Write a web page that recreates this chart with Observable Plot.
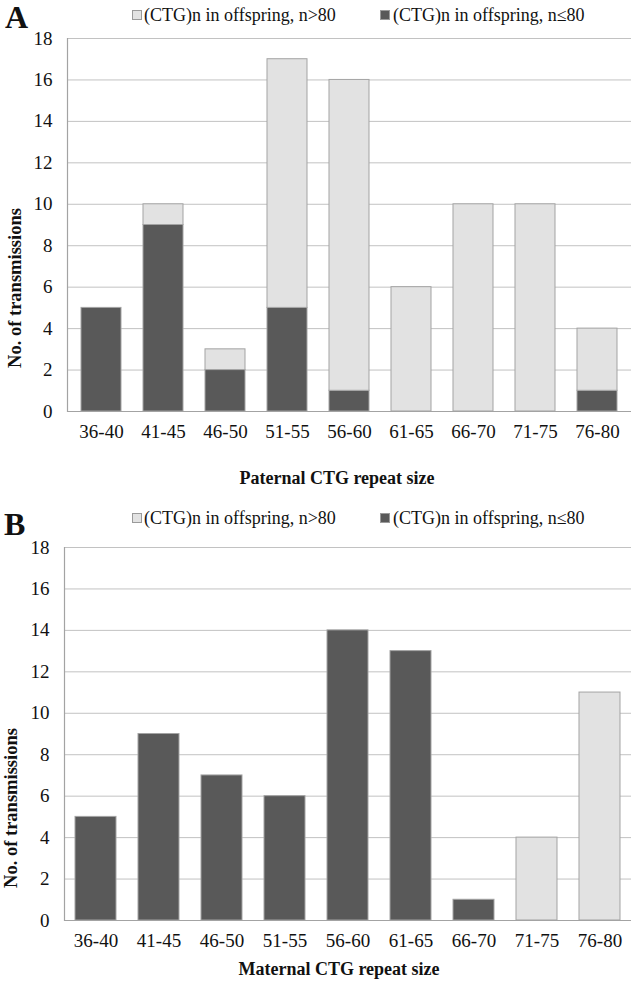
<!DOCTYPE html>
<html>
<head>
<meta charset="utf-8">
<script src="https://cdn.jsdelivr.net/npm/d3@7"></script>
<script src="https://cdn.jsdelivr.net/npm/@observablehq/plot@0.6"></script>
<style>
  body { margin: 0; background: #fff; font-family: "Liberation Serif", serif; }
  #wrap { position: relative; width: 632px; height: 984px; overflow: hidden; }
  .abs { position: absolute; color: #111; white-space: nowrap; line-height: 1; }
  .letter { font-size: 32px; font-weight: bold; }
  .legtxt { font-size: 18px; }
  .sw { width: 8px; height: 8px; border: 1px solid #9a9a9a; }
  .xt { font-size: 18px; font-weight: bold; transform: translateX(-50%); }
  .yt { font-size: 18.5px; font-weight: bold; transform: translate(-50%, -50%) rotate(-90deg); }
  .chart { position: absolute; left: 0; }
</style>
</head>
<body>
<div id="wrap"></div>
<script>
const categories = ["36-40","41-45","46-50","51-55","56-60","61-65","66-70","71-75","76-80"];
const seriesNames = ["(CTG)n in offspring, n>80", "(CTG)n in offspring, n\u226480"];
const paternalLow  = [5, 9, 2, 5, 1, 0, 0, 0, 1];
const paternalHigh = [0, 1, 1, 12, 15, 6, 10, 10, 3];
const maternalLow  = [5, 9, 7, 6, 14, 13, 1, 0, 0];
const maternalHigh = [0, 0, 0, 0, 0, 0, 0, 4, 11];
const yTicks = [0, 2, 4, 6, 8, 10, 12, 14, 16, 18];

const darkFill = "#595959", lightFill = "#e2e2e2", edge = "#a3a3a3", gridColor = "#c2c2c2";

function tidy(low, high) {
  const rows = [];
  categories.forEach((c, i) => {
    if (low[i] > 0) rows.push({cat: c, group: "low", value: low[i]});
    if (high[i] > 0) rows.push({cat: c, group: "high", value: high[i]});
  });
  return rows;
}

function makeChart(data, opts) {
  return Plot.plot({
    width: 632,
    height: opts.height,
    marginTop: opts.mt,
    marginBottom: opts.mb,
    marginLeft: opts.ml,
    marginRight: 1,
    style: {fontFamily: "'Liberation Serif', serif", fontSize: "19px", color: "#111", background: "transparent"},
    x: {domain: categories, paddingInner: 0.35, paddingOuter: 0.175, label: null},
    y: {domain: [0, 18], label: null},
    color: {domain: ["low", "high"], range: [darkFill, lightFill]},
    marks: [
      Plot.gridY(yTicks, {stroke: gridColor, strokeOpacity: 1}),
      Plot.barY(data, {x: "cat", y: "value", fill: "group", stroke: edge, strokeWidth: 1}),
      Plot.ruleY([0], {stroke: edge, strokeWidth: 1.2}),
      Plot.frame({anchor: "left", stroke: edge, strokeWidth: 1.2}),
      Plot.axisY(yTicks, {tickSize: 0, tickPadding: 15, label: null}),
      Plot.axisX({tickSize: 0, tickPadding: 13, label: null})
    ]
  });
}

const wrap = document.getElementById("wrap");

function addDiv(cls, html, left, top) {
  const d = document.createElement("div");
  d.className = "abs " + cls;
  d.innerHTML = html;
  d.style.left = left + "px";
  d.style.top = top + "px";
  wrap.appendChild(d);
  return d;
}

function addLegend(centerY) {
  addDiv("sw", "", 132, centerY - 5).style.background = lightFill;
  addDiv("legtxt", seriesNames[0], 144, centerY - 9);
  addDiv("sw", "", 380, centerY - 5).style.background = darkFill;
  addDiv("legtxt", seriesNames[1], 393, centerY - 9);
}

// Panel A
const chartA = makeChart(tidy(paternalLow, paternalHigh), {height: 490, mt: 38, mb: 79, ml: 67});
chartA.classList.add("chart");
chartA.style.top = "0px";
wrap.appendChild(chartA);
addDiv("letter", "A", 5, 1);
addLegend(15);
addDiv("xt", "Paternal CTG repeat size", 337, 469);
addDiv("yt", "No. of transmissions", 15, 288);

// Panel B
const chartB = makeChart(tidy(maternalLow, maternalHigh), {height: 484, mt: 47, mb: 64, ml: 64});
chartB.classList.add("chart");
chartB.style.top = "500px";
wrap.appendChild(chartB);
addDiv("letter", "B", 4, 508);
addLegend(518);
addDiv("xt", "Maternal CTG repeat size", 339, 960);
addDiv("yt", "No. of transmissions", 11, 808);
</script>
</body>
</html>
